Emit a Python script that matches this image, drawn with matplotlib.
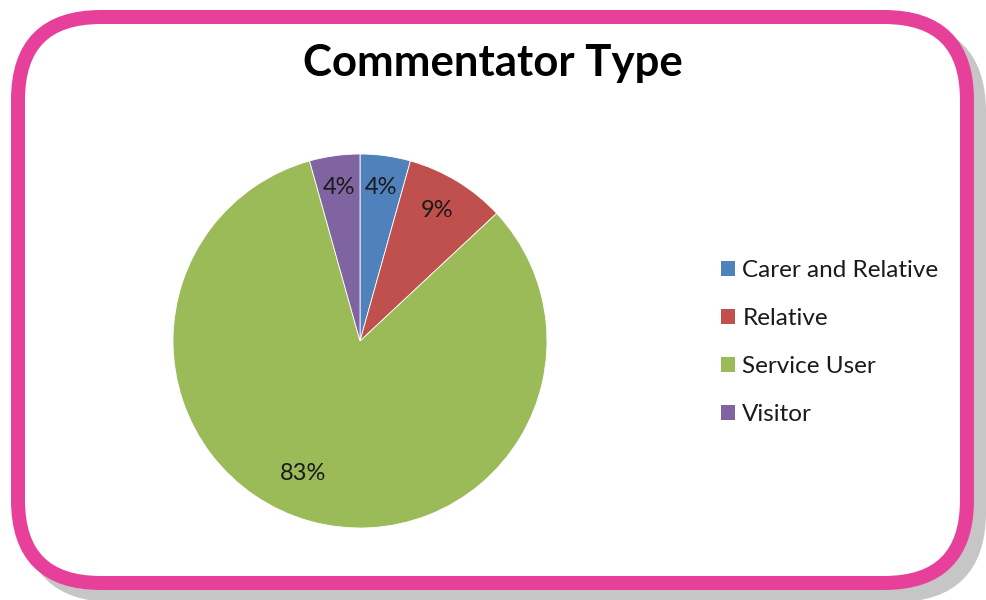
import matplotlib
matplotlib.use("Agg")
import matplotlib.pyplot as plt
from matplotlib.patches import FancyBboxPatch

categories = ["Carer and Relative", "Relative", "Service User", "Visitor"]
counts = [2, 4, 38, 2]
colors = ["#4F81BD", "#C0504D", "#9BBB59", "#8064A2"]
title = "Commentator Type"

W, H = 986, 600
fig = plt.figure(figsize=(W / 100, H / 100), dpi=100)
fig.patch.set_facecolor("white")

# background frame axes in pixel coordinates
bg = fig.add_axes([0, 0, 1, 1])
bg.set_xlim(0, W)
bg.set_ylim(H, 0)
bg.axis("off")

lw = 14 * 72 / 100
x0, y0, x1, y1 = 18, 17, 967, 583
rad = 83
shadow = FancyBboxPatch((x0 + 12, y0 + 12), x1 - x0, y1 - y0,
                        boxstyle=f"round,pad=0,rounding_size={rad}",
                        facecolor="#C6C6C6", edgecolor="#C6C6C6", linewidth=lw)
bg.add_patch(shadow)
frame = FancyBboxPatch((x0, y0), x1 - x0, y1 - y0,
                       boxstyle=f"round,pad=0,rounding_size={rad}",
                       facecolor="white", edgecolor="#E6409A", linewidth=lw)
bg.add_patch(frame)

fig.text(493 / W, 1 - 63 / H, title, ha="center", va="center",
         fontsize=31.5, fontweight="bold", family="Lato", color="black")

# pie axes
cx, cy, r = 360, 341, 187
ax = fig.add_axes([(cx - r) / W, (H - cy - r) / H, 2 * r / W, 2 * r / H])
wedges, texts, autotexts = ax.pie(
    counts, colors=colors, startangle=90, counterclock=False,
    autopct=lambda p: f"{p:.0f}%", pctdistance=0.83, radius=1,
    wedgeprops=dict(edgecolor="white", linewidth=0.6),
    textprops=dict(fontsize=17, family="Lato", color="#1a1a1a"))
ax.set_xlim(-1, 1)
ax.set_ylim(-1, 1)
ax.set_aspect("equal")
# Excel best-fit placement for the label positions
autotexts[1].set_position((0.41, 0.70))
autotexts[2].set_position((-0.305, -0.711))

leg = fig.legend(wedges, categories, loc="center left",
                 bbox_to_anchor=(721 / W, 1 - 342.5 / H), frameon=False,
                 prop=dict(family="Lato", size=17.5), handlelength=0.58,
                 handleheight=0.58, handletextpad=0.3, labelspacing=1.12,
                 borderpad=0, borderaxespad=0)
for t in leg.get_texts():
    t.set_color("#1a1a1a")
for h in leg.legend_handles:
    h.set_edgecolor("none")

fig.savefig("out.png", dpi=100, facecolor="white")
